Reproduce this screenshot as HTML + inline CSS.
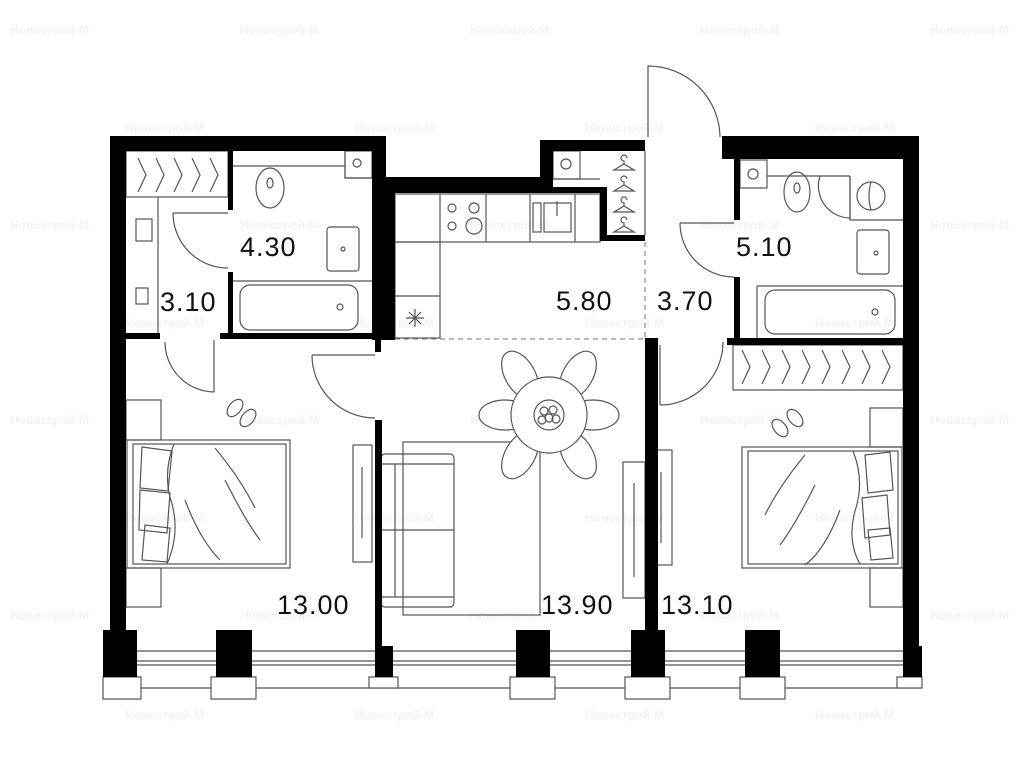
<!DOCTYPE html>
<html><head><meta charset="utf-8"><style>
html,body{margin:0;padding:0;background:#fff;}
svg{display:block}
.wm{font-family:"Liberation Sans",sans-serif;font-size:12px;font-weight:bold;fill:#f3f3f3;}
.lb{font-family:"Liberation Sans",sans-serif;font-size:27px;fill:#111;letter-spacing:1px;}
</style></head><body>
<svg width="1024" height="768" viewBox="0 0 1024 768" xmlns="http://www.w3.org/2000/svg">
<g class="wm">
<text x="10" y="34">Новострой-М</text><text x="240" y="34">Новострой-М</text><text x="470" y="34">Новострой-М</text><text x="700" y="34">Новострой-М</text><text x="930" y="34">Новострой-М</text>
<text x="125" y="132">Новострой-М</text><text x="355" y="132">Новострой-М</text><text x="585" y="132">Новострой-М</text><text x="815" y="132">Новострой-М</text>
<text x="10" y="229">Новострой-М</text><text x="240" y="229">Новострой-М</text><text x="470" y="229">Новострой-М</text><text x="700" y="229">Новострой-М</text><text x="930" y="229">Новострой-М</text>
<text x="125" y="327">Новострой-М</text><text x="355" y="327">Новострой-М</text><text x="585" y="327">Новострой-М</text><text x="815" y="327">Новострой-М</text>
<text x="10" y="424">Новострой-М</text><text x="240" y="424">Новострой-М</text><text x="470" y="424">Новострой-М</text><text x="700" y="424">Новострой-М</text><text x="930" y="424">Новострой-М</text>
<text x="125" y="522">Новострой-М</text><text x="355" y="522">Новострой-М</text><text x="585" y="522">Новострой-М</text><text x="815" y="522">Новострой-М</text>
<text x="10" y="619">Новострой-М</text><text x="240" y="619">Новострой-М</text><text x="470" y="619">Новострой-М</text><text x="700" y="619">Новострой-М</text><text x="930" y="619">Новострой-М</text>
<text x="125" y="719">Новострой-М</text><text x="355" y="719">Новострой-М</text><text x="585" y="719">Новострой-М</text><text x="815" y="719">Новострой-М</text>
</g>

<g fill="none" stroke="#555" stroke-width="1.2">
<rect x="126" y="151" width="102" height="46"/>
<line x1="158" y1="197" x2="158" y2="334"/>
<path d="M138 158 l8 17 l-8 17 M156 158 l8 17 l-8 17 M174 158 l8 17 l-8 17 M192 158 l8 17 l-8 17 M210 158 l8 17 l-8 17"/>
<rect x="136" y="219" width="16" height="22"/><rect x="136" y="288" width="12" height="16"/>
<path d="M232 166 H345 V151 M345 151 V178 H372"/>
<rect x="345" y="151" width="27" height="27"/><circle cx="357" cy="163" r="4"/>
<ellipse cx="270" cy="188" rx="14" ry="20"/><ellipse cx="270" cy="183" rx="3" ry="5"/>
<rect x="327" y="227" width="32" height="44" rx="3"/><circle cx="343" cy="249" r="2"/>
<line x1="232" y1="281" x2="372" y2="281"/>
<rect x="240" y="285" width="118" height="45" rx="10"/><circle cx="340" cy="307" r="3"/>
<rect x="395" y="194" width="205" height="48"/>
<line x1="440" y1="194" x2="440" y2="242"/><line x1="486" y1="194" x2="486" y2="242"/><line x1="530" y1="194" x2="530" y2="242"/><line x1="575" y1="194" x2="575" y2="242"/>
<circle cx="452" cy="208" r="4"/><circle cx="474" cy="208" r="5"/><circle cx="452" cy="226" r="4"/><circle cx="474" cy="226" r="8"/>
<rect x="544" y="203" width="27" height="29"/><rect x="533" y="203" width="8" height="29"/><line x1="557" y1="201" x2="557" y2="216"/>
<rect x="395" y="242" width="45" height="96"/><line x1="395" y1="296" x2="440" y2="296"/>
<path d="M406 318 h18 M415 309 v18 M409 312 l12 12 M421 312 l-12 12"/>
<rect x="553" y="151" width="27" height="28"/><circle cx="566" cy="164" r="5"/>
<line x1="553" y1="179" x2="600" y2="179"/>
<path d="M614 170 l10 -6 l10 6 z M624 164 v-3 a3 3 0 1 1 3 -3 M614 191 l10 -6 l10 6 z M624 185 v-3 a3 3 0 1 1 3 -3 M614 212 l10 -6 l10 6 z M624 206 v-3 a3 3 0 1 1 3 -3 M614 232 l10 -6 l10 6 z M624 226 v-3 a3 3 0 1 1 3 -3"/>
<line x1="645" y1="151" x2="645" y2="235"/>
<path d="M648 137 V66 A72 72 0 0 1 720 137"/>
<rect x="740" y="160" width="27" height="28"/><circle cx="753" cy="174" r="5"/>
<path d="M767 176 H850 M850 176 V220 H903"/>
<ellipse cx="797" cy="192" rx="13" ry="20"/><ellipse cx="797" cy="188" rx="3" ry="5"/>
<path d="M820 176 A32 32 0 0 0 850 218"/>
<line x1="850" y1="176" x2="850" y2="220"/><circle cx="871" cy="196" r="14"/><path d="M871 182 q-4 14 0 28"/>
<rect x="857" y="230" width="32" height="44" rx="3"/><circle cx="876" cy="253" r="2"/>
<line x1="757" y1="286" x2="903" y2="286"/><line x1="757" y1="286" x2="757" y2="338"/>
<rect x="765" y="290" width="130" height="44" rx="10"/><circle cx="875" cy="312" r="3"/>
<rect x="733" y="345" width="170" height="45"/>
<path d="M742 350 l8 17 l-8 17 M762 350 l8 17 l-8 17 M782 350 l8 17 l-8 17 M802 350 l8 17 l-8 17 M822 350 l8 17 l-8 17 M842 350 l8 17 l-8 17 M862 350 l8 17 l-8 17 M882 350 l8 17 l-8 17"/>
<rect x="126" y="400" width="35" height="40"/><rect x="126" y="568" width="35" height="39"/>
<rect x="127" y="440" width="163" height="128"/><rect x="133" y="444" width="153" height="120"/>
<path d="M174 444 q-12 30 -2 60 q8 30 -5 60"/>
<path d="M142 447 l30 4 l-4 40 l-28 -3z M140 490 l30 3 l-3 40 l-28 -3z M145 525 l25 3 l-3 34 l-25-2z"/>
<path d="M215 448 q25 30 40 60 M225 480 q20 40 35 60 M185 500 q15 40 35 60"/>
<ellipse cx="235" cy="408" rx="6" ry="10" transform="rotate(40 235 408)"/><ellipse cx="248" cy="418" rx="6" ry="10" transform="rotate(40 248 418)"/>
<rect x="353" y="445" width="19" height="117"/><line x1="362" y1="467" x2="362" y2="538"/>
<rect x="403" y="442" width="137" height="173"/>
<rect x="381" y="454" width="73" height="153" rx="4"/><line x1="381" y1="464" x2="454" y2="464"/><line x1="381" y1="597" x2="454" y2="597"/>
<line x1="395" y1="464" x2="395" y2="597"/><line x1="381" y1="530" x2="454" y2="530"/>
<rect x="623" y="462" width="22" height="136"/><line x1="634" y1="483" x2="634" y2="577"/>
<g fill="#fff">
<ellipse cx="520" cy="375" rx="15" ry="26" transform="rotate(-30 520 375)"/>
<ellipse cx="578" cy="375" rx="15" ry="26" transform="rotate(30 578 375)"/>
<ellipse cx="505" cy="415" rx="26" ry="15"/>
<ellipse cx="593" cy="415" rx="26" ry="15"/>
<ellipse cx="520" cy="455" rx="15" ry="26" transform="rotate(30 520 455)"/>
<ellipse cx="578" cy="455" rx="15" ry="26" transform="rotate(-30 578 455)"/>
<circle cx="549" cy="415" r="38"/>
</g>
<circle cx="549" cy="415" r="15"/><circle cx="544" cy="411" r="4"/><circle cx="553" cy="410" r="4"/><circle cx="549" cy="418" r="4"/><circle cx="542" cy="420" r="4"/><circle cx="556" cy="419" r="4"/>
<rect x="870" y="408" width="33" height="39"/><rect x="870" y="568" width="33" height="39"/>
<rect x="742" y="447" width="160" height="121"/><rect x="748" y="451" width="150" height="113"/>
<path d="M853 451 q12 30 2 60 q-8 30 5 53"/>
<path d="M865 455 l25 -3 l3 38 l-25 3z M862 498 l25 -3 l3 40 l-25 3z M868 530 l22 -2 l3 30 l-22 2z"/>
<path d="M805 455 q-25 30 -40 60 M815 485 q-20 40 -35 60 M840 510 q-15 40 -35 55"/>
<ellipse cx="795" cy="418" rx="6" ry="10" transform="rotate(-40 795 418)"/><ellipse cx="780" cy="428" rx="6" ry="10" transform="rotate(-40 780 428)"/>
<rect x="650" y="450" width="22" height="115"/><line x1="661" y1="472" x2="661" y2="543"/>
<path d="M173 213 H228 M173 213 A55 55 0 0 0 228 268"/>
<path d="M214 340 V392 M214 392 A50 50 0 0 1 165 342"/>
<path d="M312 355 H375 M312 355 A63 63 0 0 0 375 418"/>
<path d="M680 223 H734 M680 223 A54 54 0 0 0 734 277"/>
<path d="M660 345 V405 M660 405 A63 63 0 0 0 723 342"/>
<line x1="104" y1="651" x2="922" y2="651"/><line x1="104" y1="661" x2="922" y2="661"/><line x1="104" y1="665" x2="922" y2="665"/><line x1="104" y1="688" x2="922" y2="688"/>
</g>
<g stroke="#777" stroke-width="1" stroke-dasharray="5,4" fill="none">
<line x1="645" y1="242" x2="645" y2="338"/><line x1="395" y1="339" x2="645" y2="339"/>
</g>
<g fill="#fff" stroke="#555" stroke-width="1.2">
<rect x="103" y="677" width="38" height="22"/><rect x="211" y="677" width="45" height="22"/><rect x="369" y="677" width="29" height="11"/>
<rect x="510" y="677" width="45" height="22"/><rect x="625" y="677" width="45" height="22"/><rect x="740" y="677" width="45" height="22"/><rect x="897" y="677" width="25" height="11"/>
</g>
<g fill="#000">
<rect x="110" y="136" width="276" height="15"/>
<rect x="110" y="136" width="16" height="500"/>
<rect x="372" y="136" width="14" height="42"/>
<rect x="372" y="177" width="181" height="16"/>
<rect x="372" y="177" width="23" height="163"/>
<rect x="375" y="338" width="6" height="14"/>
<rect x="228" y="151" width="5" height="59"/>
<rect x="228" y="272" width="5" height="62"/>
<rect x="220" y="333" width="155" height="6"/>
<rect x="126" y="333" width="34" height="6"/>
<rect x="540" y="140" width="105" height="11"/>
<rect x="540" y="140" width="13" height="53"/>
<rect x="553" y="187" width="54" height="6"/>
<rect x="600" y="187" width="7" height="53"/>
<rect x="600" y="235" width="45" height="6"/>
<rect x="722" y="136" width="197" height="23"/>
<rect x="734" y="136" width="6" height="84"/>
<rect x="734" y="277" width="6" height="61"/>
<rect x="727" y="338" width="176" height="7"/>
<rect x="903" y="136" width="16" height="515"/>
<rect x="375" y="420" width="7" height="230"/>
<rect x="645" y="338" width="13" height="300"/>
<rect x="103" y="630" width="34" height="47"/><rect x="216" y="630" width="36" height="47"/>
<rect x="375" y="646" width="18" height="31"/><rect x="516" y="630" width="34" height="47"/>
<rect x="631" y="630" width="34" height="47"/><rect x="745" y="630" width="35" height="47"/>
<rect x="903" y="646" width="19" height="31"/>
</g>
<g class="lb">
<text x="240" y="256">4.30</text>
<text x="160" y="311">3.10</text>
<text x="556" y="310">5.80</text>
<text x="657" y="310">3.70</text>
<text x="736" y="256">5.10</text>
<text x="277" y="614">13.00</text>
<text x="541" y="614">13.90</text>
<text x="661" y="614">13.10</text>
</g>
</svg>
</body></html>
